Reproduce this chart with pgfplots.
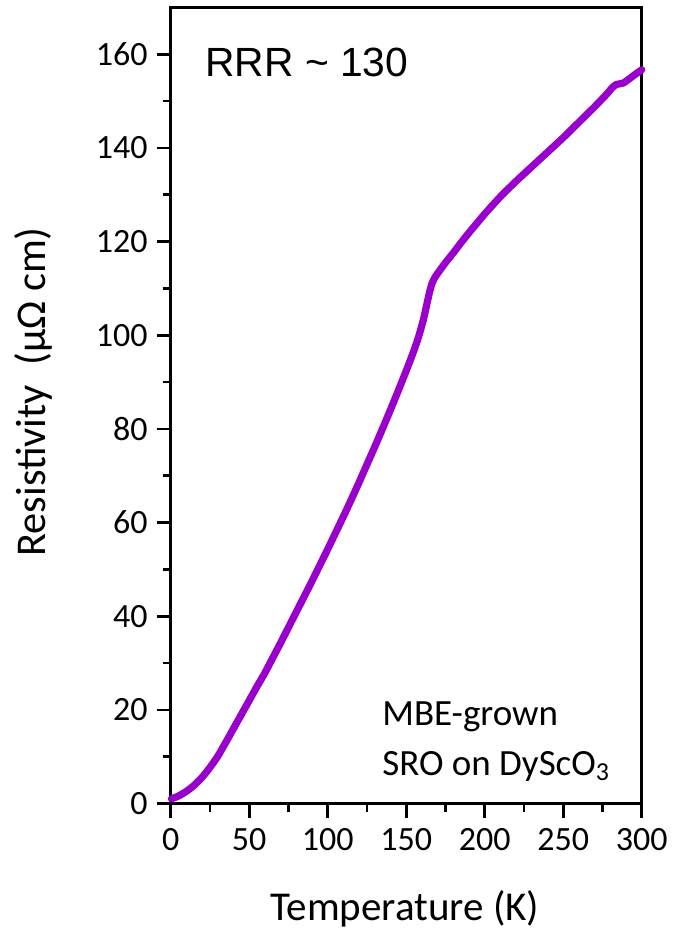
\documentclass[border=0pt]{standalone}
\usepackage{fontspec}
\setmainfont{Carlito}
\newfontfamily\arialfont{Liberation Sans}
\usepackage{pgfplots}
\pgfplotsset{compat=1.18}
\definecolor{rhoviolet}{RGB}{153,0,204}

\begin{document}
\begin{tikzpicture}
\useasboundingbox (0,0) rectangle (337pt,470.5pt);
\begin{axis}[
  at={(85.35pt,68.75pt)}, anchor=south west,
  width=235.5pt, height=398pt, scale only axis,
  xmin=0, xmax=300, ymin=0, ymax=170,
  xtick={0,50,...,300}, ytick={0,20,...,160},
  minor x tick num=1, minor y tick num=1,
  tick pos=left, tick align=outside,
  major tick length=7pt, minor tick length=4pt,
  axis line style={line width=1.3pt},
  every tick/.style={line width=1.3pt, black},
  /pgf/number format/assume math mode=true,
  ticklabel style={font=\fontsize{17}{20}\selectfont},
  xticklabel style={yshift=-2pt},
  yticklabel style={xshift=-1pt},
  xlabel={Temperature (K)},
  ylabel={Resistivity\ \ (μΩ cm)},
  xlabel style={font=\fontsize{20.5}{24}\selectfont,
    at={(axis description cs:0.497,-0.1464)}, anchor=base},
  ylabel style={font=\fontsize{21.2}{24}\selectfont,
    at={(axis description cs:-0.2648,0.517)}, anchor=base},
  clip=false,
]
% resistivity (micro-ohm cm) versus temperature (K)
\addplot[rhoviolet, line width=3.6pt, line cap=round, line join=round, smooth, tension=0.4] coordinates {
(0.5,1.0) (5,1.6) (10,2.6) (15,3.9) (20,5.6) (25,7.7) (30,10.1) (35,13.0)
(40,16.0) (45,19.0) (50,22.0) (55,25.0) (60,27.9) (65,31.1) (70,34.3)
(75,37.6) (80,40.9) (85,44.2) (90,47.5) (95,50.9) (100,54.3) (105,57.8)
(110,61.3) (115,64.9) (120,68.6) (125,72.4) (130,76.2) (135,80.1)
(140,84.1) (145,88.2) (150,92.4) (155,96.8) (158,99.8) (161,103.4)
(163,106.4) (165,109.4) (166.5,111.1) (168,112.2) (170,113.2) (175,115.5)
(180,117.6) (185,119.8) (190,121.9) (195,123.9) (200,125.9) (210,129.6)
(220,132.9) (230,136.0) (240,139.1) (250,142.2) (260,145.5) (270,148.8)
(278,151.6) (281,152.8) (283.5,153.5) (286,153.7) (288.5,153.9)
(291,154.5) (295,155.5) (300,156.7)
};
\node[anchor=base west, inner sep=0pt, font=\arialfont\fontsize{20.4}{24}\selectfont]
  at (axis description cs:0.0728,0.9127) {RRR \textasciitilde\ 130};
\node[anchor=base west, font=\fontsize{18.5}{22}\selectfont, inner sep=0pt]
  at (axis description cs:0.4486,0.0974) {MBE-grown};
\node[anchor=base west, font=\fontsize{18.5}{22}\selectfont, inner sep=0pt]
  at (axis description cs:0.4486,0.0358) {SRO on DyScO\textsubscript{3}};
\end{axis}
\end{tikzpicture}
\end{document}
